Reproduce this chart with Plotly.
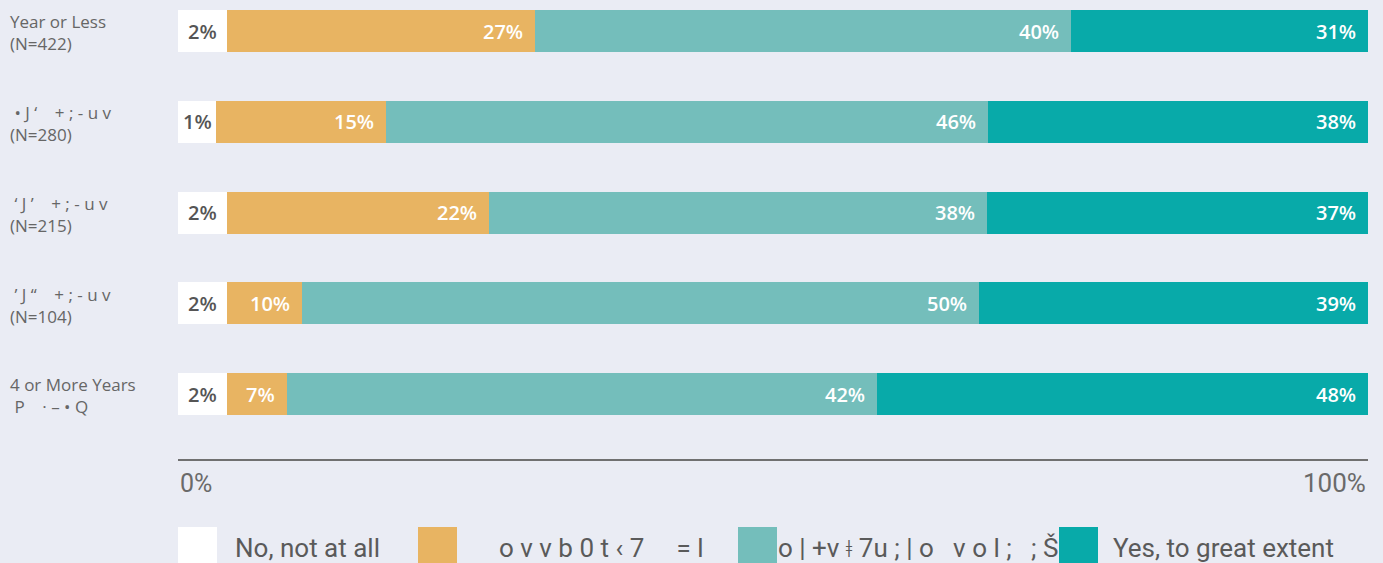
import plotly.graph_objects as go

categories = ["Year or Less<br>(N=422)", " • J ‘    + ; - u v<br>(N=280)", " ‘ J ’    + ; - u v<br>(N=215)",
              " ’ J “    + ; - u v<br>(N=104)", "4 or More Years<br> P    · – • Q"]
series_names = ["No, not at all", "o v v b 0 t ‹ 7     = l",
                "o | +v ǂ 7u ; | o   v o l ;   ; Š", "Yes, to great extent"]
# drawn segment lengths (% of axis)
not_at_all = [4.1, 3.2, 4.1, 4.1, 4.1]
small = [25.9, 14.3, 22.0, 6.3, 5.1]
moderate = [45.0, 50.6, 41.9, 56.9, 49.5]
great = [25.0, 31.9, 32.0, 32.7, 41.3]
# printed labels
lab_not = ["2%", "1%", "2%", "2%", "2%"]
lab_small = ["27%", "15%", "22%", "10%", "7%"]
lab_mod = ["40%", "46%", "38%", "50%", "42%"]
lab_great = ["31%", "38%", "37%", "39%", "48%"]
x_tick_labels = ["0%", "100%"]

colors = ["#FFFFFF", "#E8B462", "#74BEBB", "#08AAA9"]
BG = "#EAECF4"
W, H = 1383, 563
L, R = 178, 1368
yidx = list(range(len(categories)))

fig = go.Figure()
series = [(not_at_all, lab_not), (small, lab_small), (moderate, lab_mod), (great, lab_great)]
base = [0.0] * len(categories)
for i, (vals, labs) in enumerate(series):
    first = i == 0
    fig.add_trace(go.Bar(
        x=vals, y=yidx, orientation="h", name=series_names[i],
        marker=dict(color=colors[i], line=dict(width=0)),
        width=0.463, showlegend=False, hoverinfo="skip",
    ))
    for k in range(len(categories)):
        if first:
            fig.add_annotation(x=base[k] + vals[k] / 2, y=k, xref="x", yref="y", text=labs[k],
                               showarrow=False, xanchor="center", yanchor="middle",
                               font=dict(family="Open Sans", size=20, weight=600, color="#555555"))
        else:
            fig.add_annotation(x=base[k] + vals[k], y=k, xref="x", yref="y", text=labs[k],
                               showarrow=False, xanchor="right", yanchor="middle", xshift=-10,
                               font=dict(family="Open Sans", size=20, weight=600, color="#FFFFFF"))
        base[k] += vals[k]

fig.update_layout(
    barmode="stack", width=W, height=H,
    paper_bgcolor=BG, plot_bgcolor=BG,
    margin=dict(l=L, r=W - R, t=0, b=H - 459),
    xaxis=dict(range=[0, 100], showgrid=False, zeroline=False, showticklabels=False,
               showline=True, linecolor="#707070", linewidth=2, fixedrange=True),
    yaxis=dict(range=[4.716, -0.342], showgrid=False, zeroline=False,
               showticklabels=False, fixedrange=True),
    font=dict(family="Open Sans"),
)

pw = R - L
def px(xp):
    return (xp - L) / pw

# category labels
for i, c in enumerate(categories):
    fig.add_annotation(x=px(8), xref="paper", y=i + 0.02, yref="y", text=c, showarrow=False,
                       xanchor="left", yanchor="middle", align="left",
                       font=dict(family="Open Sans", size=17, color="#666666"))

# x tick labels
fig.add_annotation(x=0, xref="paper", y=-(483 - 459) / 459, yref="paper", text=x_tick_labels[0],
                   showarrow=False, xanchor="left", yanchor="middle",
                   font=dict(family="Roboto", size=25, color="#6a6a6a"))
fig.add_annotation(x=1, xref="paper", y=-(483 - 459) / 459, yref="paper", text=x_tick_labels[1],
                   showarrow=False, xanchor="right", yanchor="middle",
                   font=dict(family="Roboto", size=26, color="#6a6a6a"))

# custom legend
leg_x = [178, 418, 738, 1059]
txt_x = [233, 497, 776, 1111]
for i in range(4):
    fig.add_shape(type="rect", xref="paper", yref="paper",
                  x0=px(leg_x[i]), x1=px(leg_x[i] + 39),
                  y0=(459 - 566) / 459, y1=(459 - 527) / 459,
                  fillcolor=colors[i], line=dict(width=0), layer="above")
    fig.add_annotation(x=px(txt_x[i]), xref="paper", y=(459 - 548) / 459, yref="paper",
                       text=series_names[i], showarrow=False, xanchor="left", yanchor="middle",
                       font=dict(family="Roboto", size=26, color="#5a5a5a"))

fig.write_html("out.html", config={"displayModeBar": False},
               post_script="document.body.style.margin='0';document.body.style.background='%s';" % BG)
